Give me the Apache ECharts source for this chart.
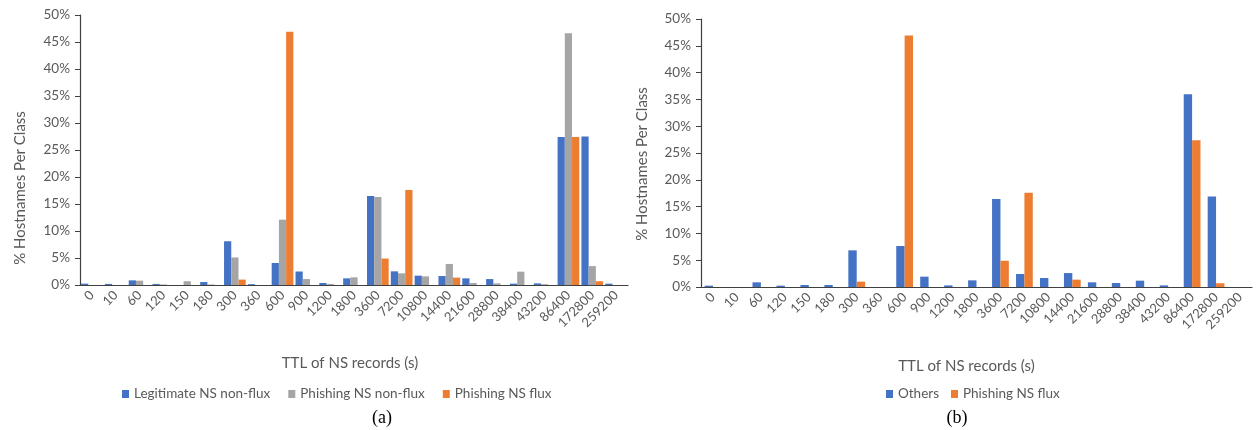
<!DOCTYPE html>
<html>
<head>
<meta charset="utf-8">
<script src="https://cdn.jsdelivr.net/npm/echarts@6/dist/echarts.min.js"></script>
<style>
  html, body { margin: 0; padding: 0; background: #ffffff; }
  #chart { width: 1258px; height: 430px; }
</style>
</head>
<body>
<div id="chart"></div>
<script>
// TTL buckets (seconds) shared by both panels
const ttlLabels = ['0', '10', '60', '120', '150', '180', '300', '360', '600', '900', '1200', '1800',
  '3600', '7200', '10800', '14400', '21600', '28800', '38400', '43200', '86400', '172800', '259200'];

// Panel (a): percentage of hostnames per class
const legitNonFlux = [0.25, 0.2, 0.86, 0.2, 0, 0.55, 8.1, 0.15, 4.07, 2.5, 0.37, 1.23,
  16.5, 2.53, 1.73, 1.66, 1.23, 1.1, 0.25, 0.3, 27.4, 27.5, 0.25];
const phishNonFlux = [0, 0, 0.8, 0.1, 0.7, 0.1, 5.1, 0, 12.1, 1.1, 0.2, 1.42,
  16.3, 2.16, 1.6, 3.9, 0.37, 0.3, 2.47, 0.15, 46.6, 3.5, 0];
const phishFlux = [0, 0, 0, 0, 0, 0, 1.0, 0, 46.9, 0, 0, 0,
  4.9, 17.6, 0, 1.37, 0, 0, 0, 0, 27.4, 0.7, 0];

// Panel (b): everything that is not flux vs. phishing flux
const others = [0.25, 0, 0.87, 0.25, 0.37, 0.37, 6.84, 0, 7.65, 1.93, 0.3, 1.24,
  16.4, 2.43, 1.68, 2.6, 0.87, 0.75, 1.18, 0.3, 35.95, 16.9, 0];

const yTicks = { min: 0, max: 50, interval: 5 };

const BLUE = '#4472C4', GRAY = '#A5A5A5', ORANGE = '#ED7D31';
const TEXT = '#595959', AXIS = '#404040';
const FONT = 'Lato, "Open Sans", sans-serif';

function xAxisFor(gridIndex, nameGap, shiftLeft) {
  return {
    type: 'category', gridIndex, data: ttlLabels,
    name: 'TTL of NS records (s)', nameLocation: 'middle', nameGap,
    nameTextStyle: { color: TEXT, fontSize: 15, fontFamily: FONT, padding: [0, shiftLeft * 2, 0, 0] },
    axisLine: { lineStyle: { color: AXIS, width: 1.2 } },
    axisTick: { show: false },
    axisLabel: { rotate: 45, interval: 0, color: TEXT, fontSize: 13, fontFamily: FONT, margin: 8 }
  };
}
function yAxisFor(gridIndex) {
  return {
    type: 'value', gridIndex, ...yTicks,
    axisLine: { show: true, lineStyle: { color: AXIS, width: 1.2 } },
    axisTick: { show: true, length: 5, lineStyle: { color: AXIS } },
    splitLine: { show: false },
    axisLabel: { formatter: '{value}%', color: TEXT, fontSize: 13.5, fontFamily: FONT, margin: 10 }
  };
}
function barSeries(name, data, color, axisIndex, gap) {
  return {
    type: 'bar', name, data, xAxisIndex: axisIndex, yAxisIndex: axisIndex,
    itemStyle: { color }, barGap: '0%', barCategoryGap: gap,
    emphasis: { disabled: true }, animation: false
  };
}
const legendText = { color: TEXT, fontSize: 13.5, fontFamily: FONT };

const chart = echarts.init(document.getElementById('chart'));
chart.setOption({
  animation: false,
  textStyle: { fontFamily: FONT },
  grid: [
    { left: 80, width: 548, top: 15, height: 270 },
    { left: 701, width: 551, top: 19, height: 268 }
  ],
  xAxis: [xAxisFor(0, 71, 4), xAxisFor(1, 72, 10)],
  yAxis: [yAxisFor(0), yAxisFor(1)],
  legend: [
    {
      left: 117, top: 382, itemWidth: 7, itemHeight: 8, itemGap: 18,
      icon: 'rect', textStyle: legendText,
      data: ['Legitimate NS non-flux', 'Phishing NS non-flux', 'Phishing NS flux']
    },
    {
      left: 881, top: 382, itemWidth: 7, itemHeight: 8, itemGap: 12,
      icon: 'rect', textStyle: legendText,
      data: ['Others', 'Phishing NS flux']
    }
  ],
  series: [
    barSeries('Legitimate NS non-flux', legitNonFlux, BLUE, 0, '9%'),
    barSeries('Phishing NS non-flux', phishNonFlux, GRAY, 0, '9%'),
    barSeries('Phishing NS flux', phishFlux, ORANGE, 0, '9%'),
    barSeries('Others', others, BLUE, 1, '30%'),
    barSeries('Phishing NS flux', phishFlux, ORANGE, 1, '30%')
  ],
  graphic: [
    {
      type: 'text', x: 20, y: 188, rotation: Math.PI / 2,
      style: { text: '% Hostnames Per Class', fill: TEXT, font: '15px ' + FONT, align: 'center', verticalAlign: 'middle' }
    },
    {
      type: 'text', x: 642, y: 164, rotation: Math.PI / 2,
      style: { text: '% Hostnames Per Class', fill: TEXT, font: '15px ' + FONT, align: 'center', verticalAlign: 'middle' }
    },
    {
      type: 'text', x: 382, y: 418,
      style: { text: '(a)', fill: '#000000', font: '18px "Liberation Serif", serif', align: 'center', verticalAlign: 'middle' }
    },
    {
      type: 'text', x: 957, y: 418,
      style: { text: '(b)', fill: '#000000', font: '18px "Liberation Serif", serif', align: 'center', verticalAlign: 'middle' }
    }
  ]
});
</script>
</body>
</html>
